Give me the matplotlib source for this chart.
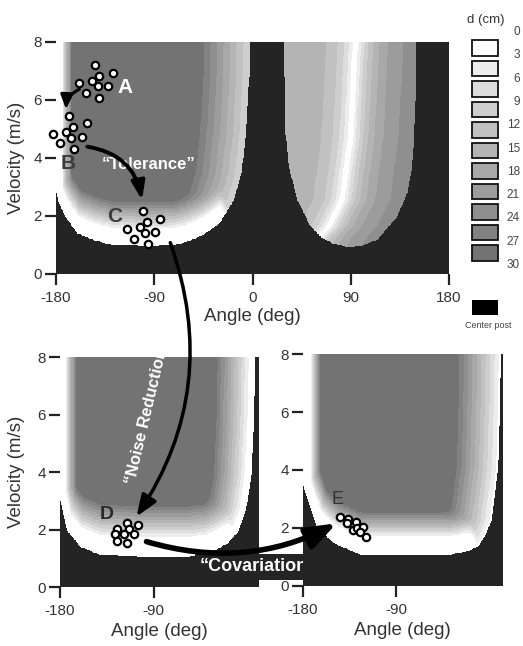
import numpy as np
import matplotlib
matplotlib.use("Agg")
import matplotlib.pyplot as plt
from matplotlib.colors import ListedColormap, BoundaryNorm
from matplotlib.patches import Rectangle, ConnectionPatch

plt.rcParams['font.family'] = ['Liberation Sans', 'DejaVu Sans']
plt.rcParams['axes.unicode_minus'] = False

# ---------------- data ----------------
d_levels = [0, 3, 6, 9, 12, 15, 18, 21, 24, 27, 30]
d_colors = ['#ffffff', '#ededed', '#dddddd', '#cecece', '#c1c1c1', '#b4b4b4',
            '#a8a8a8', '#9c9c9c', '#8f8f8f', '#828282', '#737373']
post_label = 'Center post'
post_color = '#242424'

top_xticks = [-180, -90, 0, 90, 180]
bottom_xticks = [-180, -90]
yticks = [0, 2, 4, 6, 8]

# boundary of the "center post" (black) region: velocity at each angle
topL_bnd_a = [-180, -178, -172, -161, -145, -130, -100, -72, -60, -45, -30, -17, -10, -6, -3, -2]
topL_bnd_v = [2.8, 2.5, 2.0, 1.4, 1.15, 1.0, 0.97, 0.98, 1.1, 1.35, 1.75, 2.55, 3.5, 4.85, 6.8, 9.0]
topR_bnd_a = [28.5, 29.2, 30.3, 33.4, 41, 53.3, 64, 75, 87, 100, 114.5, 132.9, 142, 146.7, 149.5, 150.5]
topR_bnd_v = [9.0, 7.5, 4.85, 3.7, 2.55, 1.63, 1.23, 1.02, 0.94, 0.96, 1.17, 1.98, 2.8, 3.7, 6.0, 9.0]
topR_ridge_v = [1.0, 1.27, 1.63, 2.55, 4.7, 8.0]
topR_ridge_a = [57, 61, 70, 82.4, 90, 94.6]
botL_bnd_a = [-180, -173.6, -160.8, -141.7, -100, -58.7, -40, -30, -20, -10, -2, 3, 5.5, 6.8, 7.5]
botL_bnd_v = [3.0, 1.97, 1.39, 1.10, 1.04, 1.04, 1.12, 1.3, 1.5, 1.9, 2.7, 3.9, 5.8, 8.0, 9.0]
botR_bnd_a = [-180, -167, -150.8, -124.8, -80, -37, -20, -11, -4, 2, 8.4, 10, 11, 11.5]
botR_bnd_v = [3.43, 2.05, 1.47, 1.07, 1.07, 1.07, 1.2, 1.36, 1.75, 2.28, 4.12, 6.0, 8.0, 9.0]

# throws (release angle in deg, velocity in m/s)
A_ang = [-144.2, -127.9, -140.5, -147.2, -158.9, -141.7, -132.5, -152.4, -140.2]
A_vel = [7.21, 6.94, 6.83, 6.66, 6.58, 6.48, 6.48, 6.25, 6.06]
B_ang = [-168.1, -151.8, -164.1, -171.1, -183.1, -156.4, -166.2, -176.3, -163.5]
B_vel = [5.46, 5.20, 5.06, 4.91, 4.83, 4.71, 4.70, 4.51, 4.31]
C_ang = [-100.7, -84.5, -96.7, -115.1, -103.5, -89.1, -98.9, -108.4, -95.8]
C_vel = [2.17, 1.90, 1.80, 1.54, 1.63, 1.46, 1.42, 1.21, 1.03]
D_ang = [-116.1, -105.6, -125.7, -113.6, -118.4, -108.9, -127.3, -125.7, -115.6]
D_vel = [2.24, 2.16, 2.01, 2.01, 1.83, 1.83, 1.83, 1.60, 1.54]
E_ang = [-144.2, -136.2, -137.7, -128.7, -131.3, -127.5, -121.6, -124.8, -119.3]
E_vel = [2.39, 2.30, 2.16, 2.22, 1.93, 2.01, 2.04, 1.87, 1.70]


# ---------------- fields ----------------
def valley_field(A, V, bnd_a, bnd_v, right_from, sa, sv, white, r0, wR, k=0.08):
    bnd_a = np.asarray(bnd_a, float)
    bnd_v = np.asarray(bnd_v, float)
    vb = np.interp(A, bnd_a, bnd_v, left=np.inf, right=np.inf)
    inside = V >= vb
    edge_v = np.linspace(bnd_v[0], 10, 200)
    edge_a = np.full_like(edge_v, bnd_a[0])
    curve_a = np.linspace(bnd_a[0], right_from, 600)
    curve_v = np.interp(curve_a, bnd_a, bnd_v)
    pa = np.concatenate([edge_a, curve_a]) / sa
    pv = np.concatenate([edge_v, curve_v]) / sv
    qa = A[inside] / sa
    qv = V[inside] / sv
    dist = np.empty(qa.size)
    n = 4000
    for s in range(0, qa.size, n):
        da = qa[s:s + n, None] - pa[None, :]
        dv = qv[s:s + n, None] - pv[None, :]
        dist[s:s + n] = np.sqrt((da ** 2 + dv ** 2).min(axis=1))
    sel = bnd_a >= right_from
    aR = np.interp(V[inside], bnd_v[sel], bnd_a[sel])
    t2 = r0 + (1 - r0) * (aR - A[inside]) / wR
    t1 = (dist - white) / (1 - white)
    m = np.minimum(t1, t2)
    t = m - k * np.log(np.exp(-(t1 - m) / k) + np.exp(-(t2 - m) / k))
    d = np.full(A.shape, np.nan)
    d[inside] = 30 * np.clip(t, 0, 1.1)
    return d


def ridge_field(A, V, bnd_a, bnd_v, ridge_v, ridge_a):
    vb = np.interp(A, bnd_a, bnd_v, left=np.inf, right=np.inf)
    inside = V >= vb
    a_s = np.interp(V, ridge_v, ridge_a)
    off = A - a_s
    d = np.where(off < 0, 18 * (1 - np.exp(off / 15)), 27 * (1 - np.exp(-off / 20)))
    return np.where(inside, d, np.nan)


def combine(shape, *parts):
    f = np.full(shape, -1.0)
    for p in parts:
        m = ~np.isnan(p)
        f[m] = p[m]
    return f


cmap = ListedColormap([post_color] + d_colors)
bounds = [-2, -0.5] + d_levels[1:] + [1000]
norm = BoundaryNorm(bounds, cmap.N)

# top panel grid
ta = np.linspace(-180, 180, 721)
tv = np.linspace(0, 8, 321)
TA, TV = np.meshgrid(ta, tv)
top_field = combine(TA.shape,
                    valley_field(TA, TV, topL_bnd_a, topL_bnd_v, -30, 14, 1.5, 0.33, 0.3, 42),
                    ridge_field(TA, TV, topR_bnd_a, topR_bnd_v, topR_ridge_v, topR_ridge_a))

bl_xmax = 10
br_xmax = 12.6
la = np.linspace(-180, bl_xmax, 381)
LA, LV = np.meshgrid(la, tv)
bl_field = combine(LA.shape, valley_field(LA, LV, botL_bnd_a, botL_bnd_v, -20, 15, 1.75, 0.33, -0.1, 36))
ra = np.linspace(-180, br_xmax, 386)
RA, RV = np.meshgrid(ra, tv)
br_field = combine(RA.shape, valley_field(RA, RV, botR_bnd_a, botR_bnd_v, -20, 16, 1.45, 0.38, 0.05, 40))

# ---------------- figure ----------------
fig = plt.figure(figsize=(5.23, 6.46), dpi=100)
ax_t = fig.add_axes([0.1071, 0.5759, 0.7514, 0.3591])
ax_bl = fig.add_axes([0.1147, 0.0913, 0.3786, 0.3560])
ax_br = fig.add_axes([0.5793, 0.0929, 0.3805, 0.3591])


def style(ax, field, xmax, xticks):
    ax.imshow(field, origin='lower', extent=(-180, xmax, 0, 8), aspect='auto',
              cmap=cmap, norm=norm, interpolation='nearest')
    ax.set_xlim(-180, xmax)
    ax.set_ylim(0, 8)
    for sp in ax.spines.values():
        sp.set_visible(False)
    ax.set_xticks(xticks)
    ax.set_xticklabels([str(x) for x in xticks])
    ax.set_yticks(yticks)
    ax.set_yticklabels([str(y) for y in yticks])
    ax.tick_params(direction='out', length=8, width=1.6, color='#222222',
                   labelcolor='#333333', labelsize=11)
    ax.tick_params(axis='x', pad=4)
    ax.tick_params(axis='y', pad=2)


style(ax_t, top_field, 180, top_xticks)
style(ax_bl, bl_field, bl_xmax, bottom_xticks)
style(ax_br, br_field, br_xmax, bottom_xticks)

lab_kw = dict(fontsize=13.5, color='#333333')
ax_t.set_ylabel('Velocity (m/s)', **lab_kw)
ax_t.yaxis.set_label_coords(-0.079, 0.5)
ax_t.set_xlabel('Angle (deg)', **lab_kw)
ax_t.xaxis.set_label_coords(0.5, -0.145)
ax_bl.set_ylabel('Velocity (m/s)', **lab_kw)
ax_bl.yaxis.set_label_coords(-0.177, 0.5)
ax_bl.set_xlabel('Angle (deg)', **lab_kw)
ax_bl.xaxis.set_label_coords(0.5, -0.155)
ax_br.set_xlabel('Angle (deg)', **lab_kw)
ax_br.xaxis.set_label_coords(0.5, -0.155)

mk = dict(ls='none', marker='o', ms=5.3, mfc='white', mec='black', mew=1.6, clip_on=False, zorder=5)
ax_t.plot(A_ang, A_vel, **mk)
ax_t.plot(B_ang, B_vel, **mk)
ax_t.plot(C_ang, C_vel, **mk)
ax_bl.plot(D_ang, D_vel, **mk)
ax_br.plot(E_ang, E_vel, **mk)

ax_t.text(-116.6, 6.44, 'A', color='white', fontsize=15, fontweight='bold', ha='center', va='center')
ax_t.text(-168.7, 3.82, 'B', color='#3c3c3c', fontsize=15, fontweight='bold', ha='center', va='center')
ax_t.text(-125.8, 1.98, 'C', color='#3c3c3c', fontsize=15, fontweight='bold', ha='center', va='center')
ax_bl.text(-135, 2.52, 'D', color='#2a2a2a', fontsize=14, fontweight='bold', ha='center', va='center')
ax_br.text(-146.8, 2.97, 'E', color='#333333', fontsize=13, ha='center', va='center')

ax_t.text(-95.2, 3.79, '\u201cTolerance\u201d', color='white', fontsize=12, fontweight='bold',
          ha='center', va='center')
ax_bl.text(-112, 3.58, '\u201cNoise Reduction\u201d', color='white', fontsize=12, fontweight='bold',
           rotation=76.7, rotation_mode='anchor', ha='left', va='center', clip_on=True)
ax_bl.text(-46, 0.71, '\u201cCovariation\u201d', color='white', fontsize=13, fontweight='bold',
           ha='left', va='center', clip_on=False,
           bbox=dict(boxstyle='square,pad=0.25', fc=post_color, ec='none'))

# arrows
ax_t.annotate('', xy=(-170.8, 5.68), xytext=(-158.6, 6.37),
              arrowprops=dict(arrowstyle='-|>,head_length=0.85,head_width=0.36', mutation_scale=10,
                              connectionstyle='arc3,rad=0.3', lw=2.2, color='black',
                              shrinkA=0, shrinkB=0))
ax_t.annotate('', xy=(-101.3, 2.55), xytext=(-151.3, 4.39),
              arrowprops=dict(arrowstyle='-|>,head_length=1.1,head_width=0.4', mutation_scale=10,
                              connectionstyle='arc3,rad=-0.35', lw=2.8, color='black',
                              shrinkA=0, shrinkB=0))
con1 = ConnectionPatch(xyA=(-75.3, 1.08), coordsA=ax_t.transData,
                       xyB=(-106.6, 2.45), coordsB=ax_bl.transData,
                       arrowstyle='-|>,head_length=0.65,head_width=0.25', mutation_scale=20,
                       connectionstyle='arc3,rad=-0.25', lw=2.5, color='black', zorder=6)
fig.add_artist(con1)
con2 = ConnectionPatch(xyA=(-97, 1.58), coordsA=ax_bl.transData,
                       xyB=(-147.4, 2.16), coordsB=ax_br.transData,
                       arrowstyle='-|>,head_length=0.9,head_width=0.33', mutation_scale=20,
                       connectionstyle='arc3,rad=0.2', lw=4, color='black', zorder=6)
fig.add_artist(con2)

# legend (pixel-like overlay)
ov = fig.add_axes([0, 0, 1, 1], zorder=5)
ov.set_xlim(0, 523)
ov.set_ylim(646, 0)
ov.axis('off')
ov.text(486, 20, 'd (cm)', ha='center', va='center', fontsize=9.5, color='#333333')
for i, (lev, col) in enumerate(zip(d_levels, d_colors)):
    ov.add_patch(Rectangle((472, 40 + i * 20.5), 26, 15.5, fc=col, ec='#111111', lw=1.3))
    ov.text(520, 32 + i * 23.3, str(lev), ha='right', va='center', fontsize=8.5, color='#444444')
ov.add_patch(Rectangle((472, 300), 26, 15, fc='black', ec='none'))
ov.text(488, 326, post_label, ha='center', va='center', fontsize=6.5, color='#444444')

fig.savefig('out.png', dpi=100)
